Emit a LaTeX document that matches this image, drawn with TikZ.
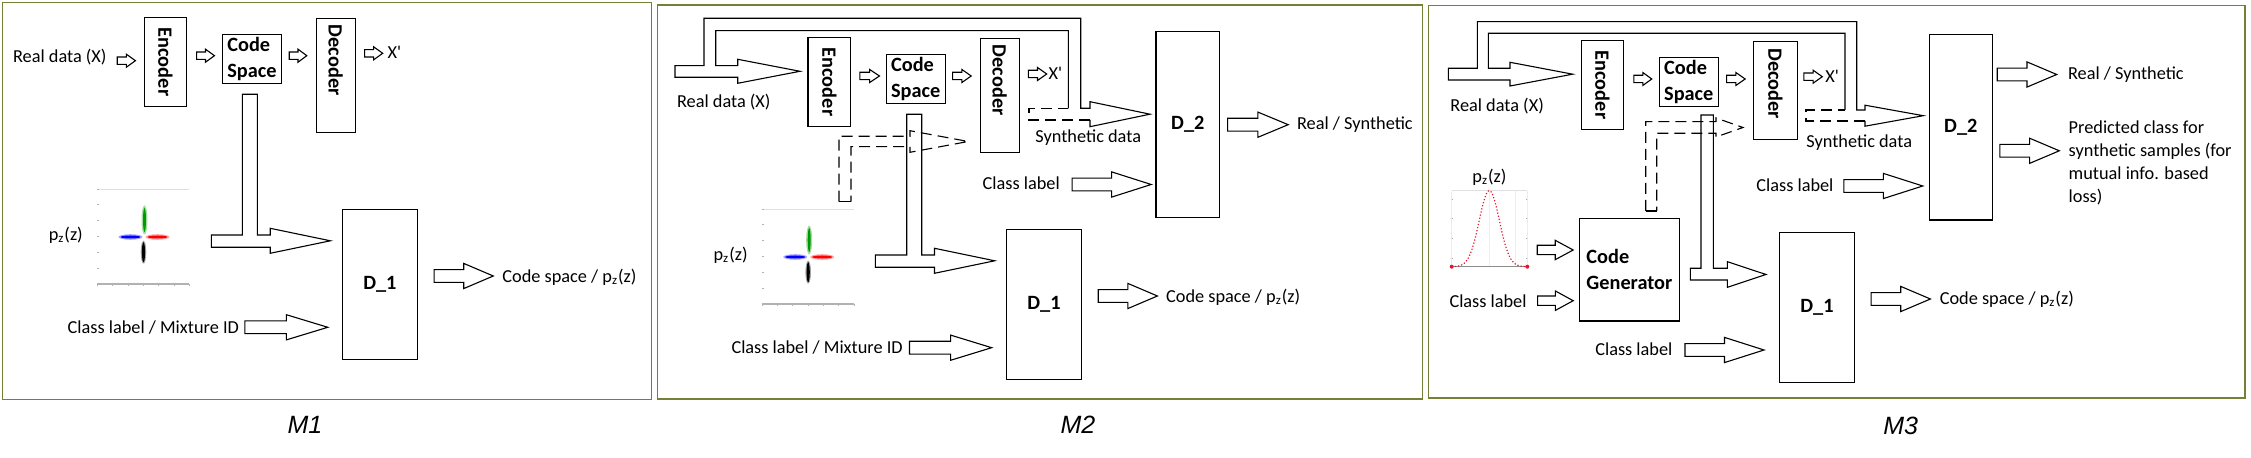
\documentclass[tikz,border=0pt]{standalone}
\usepackage{fontspec}
\setmainfont{Carlito}
\newfontfamily\titlefont{Liberation Sans}
\usepackage{graphicx}
\usepackage{tikz}
\usetikzlibrary{positioning,calc}

\definecolor{framegreen}{RGB}{118,128,52}
\definecolor{dotred}{RGB}{235,20,45}

\begin{document}
\begin{tikzpicture}[
    x=0.5pt, y=-0.5pt,
    lbl/.style={font=\fontsize{9.15}{11}\selectfont, inner sep=0pt, text height=6.6pt, text depth=1.2pt},
    box/.style={draw, line width=0.55pt, inner sep=0pt, font=\fontsize{10.15}{13}\selectfont\bfseries},
    boxtext/.style={font=\fontsize{10.15}{13}\selectfont\bfseries, inner sep=0pt},
    paneltitle/.style={font=\titlefont\itshape\fontsize{12.5}{14}\selectfont, inner sep=0pt},
    panel/.style={draw=framegreen, line width=0.7pt},
    barrow/.style 2 args={draw, line width=0.55pt, to path={
        let \p1=(\tikztostart), \p2=(\tikztotarget),
            \p3=($(\tikztostart)!0.5!(\tikztotarget)$) in
        (\x1,\y1+#1*0.5pt) -- (\x3,\y1+#1*0.5pt) -- (\x3,\y1+#2*0.5pt) -- (\x2,\y1)
        -- (\x3,\y1-#2*0.5pt) -- (\x3,\y1-#1*0.5pt) -- (\x1,\y1-#1*0.5pt) -- cycle}},
    smallarr/.style={barrow={3.7}{6.5}},
    midarr/.style={barrow={4.7}{9.7}},
    bigarr/.style={barrow={6.4}{12.6}},
    pipe/.style={draw, line width=0.55pt},
    dashpipe/.style={draw, line width=0.55pt, dash pattern=on 5.5pt off 3pt},
    pzscatter/.pic={
        \draw[black!12, line width=0.5pt] (-46,-47.4) -- (46,-47.4);
        \draw[black!30, line width=0.6pt] (-46,47.3) -- (46,47.3);
        \foreach \ty in {-47.4,-31.7,-16,0,15.6,31.6}
            \draw[black!30, line width=0.5pt] (-46,\ty) -- (-44,\ty);
        \foreach \tx in {-46,-30.7,-15.3,0,15.3,30.7,46}
            \draw[black!30, line width=0.5pt] (\tx,47.3) -- (\tx,49.5);
        \fill[green!60!black, opacity=0.35] (1.2,-16.7) ellipse [x radius=3, y radius=14.5];
        \fill[green!60!black] (1.2,-16.7) ellipse [x radius=1.5, y radius=12];
        \fill[red, opacity=0.35] (14.2,0.3) ellipse [x radius=12, y radius=2.8];
        \fill[red] (14.2,0.3) ellipse [x radius=10, y radius=1.5];
        \fill[blue, opacity=0.35] (-12.8,0.3) ellipse [x radius=12, y radius=2.8];
        \fill[blue] (-12.8,0.3) ellipse [x radius=10, y radius=1.5];
        \fill[black, opacity=0.35] (0.2,15.5) ellipse [x radius=2.8, y radius=11.5];
        \fill[black] (0.2,15.5) ellipse [x radius=1.6, y radius=10];
    },
    gausscurve/.pic={
        \draw[black!12, line width=0.5pt] (-37.6,-76) -- (38,-76);
        \foreach \tx in {-37.6,0,25.7,38}
            \draw[black!7, line width=0.4pt] (\tx,-76) -- (\tx,0);
        \foreach \ty in {-66.7,-47.7,-28.4,-8.4} {
            \draw[black!35, line width=0.5pt] (-37.6,\ty) -- (-36,\ty);
            \draw[black!35, line width=0.5pt] (38,\ty) -- (36.4,\ty);
        }
        \draw[black!45, line width=0.6pt] (-37.6,0) -- (38,0);
        \draw[dotred, line width=0.6pt, densely dotted, domain=-37.6:38, samples=90, smooth]
            plot (\x, {-76*exp(-(\x*\x)/204)});
        \fill[dotred] (-37.6,0) circle[radius=1pt];
        \fill[dotred] (38,0) circle[radius=1pt];
    }
]
    \fill[white] (0,0) rectangle (2251,458);
    \useasboundingbox (0,0) rectangle (2251,458);

    % --- M1 (left panel) ---
    \node[lbl, anchor=west] (real1) at (12.7,57) {Real data (X)};
    \node[box, minimum width=21.2pt, minimum height=44.7pt] (enc1) at (165.5,62) {\rotatebox{-90}{Encoder}};
    \node[box, align=left, minimum width=29.7pt, minimum height=24.5pt] (cs1) at (252,58.8) {Code\\Space};
    \node[box, minimum width=19.65pt, minimum height=57pt] (dec1) at (335.7,75.3) {};
    \node[boxtext, below=3.35pt of dec1.north] (dectxt1) {\rotatebox{-90}{Decoder}};
    \node[lbl, anchor=west] (xp1) at (387.3,53.3) {X\textquotesingle};
    \node[lbl, anchor=west] (pz1) at (48.4,235) {p\textsubscript{z}(z)};
    \pic at (143.3,236.7) {pzscatter};
    \node[box, minimum width=37.65pt, minimum height=75pt] (dis1) at (379.9,284.3) {D\_1};
    \node[lbl, anchor=west] (cls1) at (67.3,328.3) {Class label / Mixture ID};
    \node[lbl, anchor=west] (out1) at (502,277) {Code space / p\textsubscript{z}(z)};

    \draw[smallarr] ([shift={(10.3,3.7)}]real1.east) to ([shift={(-8.3,0)}]enc1.west);
    \draw[smallarr] ([shift={(9.3,-6.3)}]enc1.east) to ([shift={(-7.3,0)}]cs1.west);
    \draw[smallarr] ([shift={(7,-3.1)}]cs1.east) to ([shift={(-8.7,0)}]dec1.west);
    \draw[smallarr] ([shift={(8.7,-22)}]dec1.east) to ([shift={(-4.6,0)}]xp1.west);
    \draw[bigarr] ([shift={(16,-8.3)}]dis1.east) to ([shift={(-8.7,0)}]out1.west);
    \draw[bigarr] ([shift={(5.5,-1)}]cls1.east) to ([shift={(-13.9,0)}]dis1.west);

    % code space down into D_1
    \draw[pipe] (242.3,94.3) -- (257.3,94.3) -- (257.3,235) -- (270.2,235) -- (270.2,228.3)
        -- (330.4,240.8) -- (270.2,253.3) -- (270.2,247.3) -- (211.3,247.3) -- (211.3,235)
        -- (242.3,235) -- cycle;

    % --- M2 (middle panel) ---
    \node[lbl, anchor=west] (real2) at (676.7,102.3) {Real data (X)};
    \node[box, minimum width=21.35pt, minimum height=44.7pt] (enc2) at (829.3,82) {\rotatebox{-90}{Encoder}};
    \node[box, align=left, minimum width=29.65pt, minimum height=24.5pt] (cs2) at (915.7,78.8) {Code\\Space};
    \node[box, minimum width=19.65pt, minimum height=57pt] (dec2) at (999.7,95.3) {};
    \node[boxtext, below=3.35pt of dec2.north] (dectxt2) {\rotatebox{-90}{Decoder}};
    \node[lbl, anchor=west] (xp2) at (1048.3,74) {X\textquotesingle};
    \node[lbl, anchor=west] (syn2) at (1035,137) {Synthetic data};
    \node[box, minimum width=31.85pt, minimum height=92.8pt] (dis2b) at (1187.8,124.5) {D\_2};
    \node[lbl, anchor=west] (rs2) at (1296.7,124.3) {Real / Synthetic};
    \node[lbl, anchor=west] (cls2b) at (982.3,184) {Class label};
    \node[lbl, anchor=west] (pz2) at (713.2,255) {p\textsubscript{z}(z)};
    \pic at (808,256.7) {pzscatter};
    \node[box, minimum width=37.3pt, minimum height=75pt] (dis2a) at (1044,304.3) {D\_1};
    \node[lbl, anchor=west] (out2) at (1165.8,296.7) {Code space / p\textsubscript{z}(z)};
    \node[lbl, anchor=west] (cls2a) at (731.1,347.7) {Class label / Mixture ID};

    \draw[smallarr] ([shift={(8.6,-6)}]enc2.east) to ([shift={(-6,0)}]cs2.west);
    \draw[smallarr] ([shift={(6.7,-2.8)}]cs2.east) to ([shift={(-8.3,0)}]dec2.west);
    \draw[smallarr] ([shift={(8.4,-21.3)}]dec2.east) to ([shift={(-1.6,0)}]xp2.west);
    \draw[bigarr] ([shift={(7.4,0.2)}]dis2b.east) to ([shift={(-8.5,0)}]rs2.west);
    \draw[bigarr] ([shift={(12,0.5)}]cls2b.east) to ([shift={(-4.2,0)}]dis2b.west);
    \draw[bigarr] ([shift={(16.4,-8.3)}]dis2a.east) to ([shift={(-8.4,0)}]out2.west);
    \draw[bigarr] ([shift={(6.4,0)}]cls2a.east) to ([shift={(-14.5,0)}]dis2a.west);

    % real data into encoder, branch over the top into D_2
    \draw[pipe] (1068.3,108.3) -- (1068.3,30.7) -- (715.7,30.7) -- (715.7,65.7) -- (737.7,65.7)
        -- (737.7,59.3) -- (800,71.3) -- (737.7,83.3) -- (737.7,77.3) -- (675,77.3) -- (675,65.7)
        -- (704,65.7) -- (704,18.3) -- (1080.7,18.3) -- (1080.7,108.3) -- (1090,108.3)
        -- (1090,101.7) -- (1150,114.2) -- (1090,126.7) -- (1090,120);
    \draw[dashpipe] (1090,120) -- (1029,120) -- (1029,108.3) -- (1068.3,108.3);

    % code space down into D_1
    \draw[pipe] (906.7,114.3) -- (921.7,114.3) -- (921.7,255) -- (934.5,255) -- (934.5,248.3)
        -- (994.7,260.8) -- (934.5,273.3) -- (934.5,267.3) -- (875.3,267.3) -- (875.3,255)
        -- (906.7,255) -- cycle;

    % prior sample into the decoder
    \draw[dashpipe] (839,201.7) -- (839,136.3) -- (910,136.3) -- (910,130.7) -- (968.3,141.5)
        -- (910,152.3) -- (910,146.7) -- (851,146.7) -- (851,201.7);
    \draw[pipe] (839,201.7) -- (851,201.7);

    % --- M3 (right panel) ---
    \node[lbl, anchor=west] (real3) at (1450,105.7) {Real data (X)};
    \node[box, minimum width=21pt, minimum height=44.3pt] (enc3) at (1602.3,85) {\rotatebox{-90}{Encoder}};
    \node[box, align=left, minimum width=29.5pt, minimum height=24.7pt] (cs3) at (1688.8,82) {Code\\Space};
    \node[box, minimum width=22.2pt, minimum height=48.8pt] (dec3) at (1775.5,90.5) {};
    \node[boxtext, below=3.35pt of dec3.north] (dectxt3) {\rotatebox{-90}{Decoder}};
    \node[lbl, anchor=west] (xp3) at (1825,76.7) {X\textquotesingle};
    \node[lbl, anchor=west] (syn3) at (1806,141.7) {Synthetic data};
    \node[box, minimum width=31.5pt, minimum height=92.85pt] (dis3b) at (1960.8,127.2) {D\_2};
    \node[lbl, anchor=west] (rs3) at (2067.7,74) {Real / Synthetic};
    \node[font=\fontsize{9.15}{11.45}\selectfont, inner sep=0pt, align=left, anchor=west] (pc3)
        at (2068.3,163.1) {Predicted class for\\synthetic samples (for\\mutual info. based\\loss)};
    \node[lbl, anchor=west] (cls3b) at (1756,185.7) {Class label};
    \node[lbl] (pz3) at (1489.4,176.7) {p\textsubscript{z}(z)};
    \pic at (1489.3,266.7) {gausscurve};
    \node[box, align=left, minimum width=50.35pt, minimum height=51.35pt] (gen3) at (1629.4,269.7) {Code\\Generator};
    \node[lbl, anchor=west] (cls3g) at (1449.1,301.7) {Class label};
    \node[box, minimum width=37.65pt, minimum height=75pt] (dis3a) at (1817,307.3) {D\_1};
    \node[lbl, anchor=west] (out3) at (1939.4,299.3) {Code space / p\textsubscript{z}(z)};
    \node[lbl, anchor=west] (cls3a) at (1594.9,350) {Class label};

    \draw[smallarr] ([shift={(10,-6)}]enc3.east) to ([shift={(-7,0)}]cs3.west);
    \draw[smallarr] ([shift={(7.7,-3)}]cs3.east) to ([shift={(-7.6,0)}]dec3.west);
    \draw[smallarr] ([shift={(5.6,-13.8)}]dec3.east) to ([shift={(-2.7,0)}]xp3.west);
    \draw[bigarr] ([shift={(4.4,-52.7)}]dis3b.east) to ([shift={(-11,0)}]rs3.west);
    \draw[bigarr] ([shift={(7,23.6)}]dis3b.east) to ([shift={(-9,0)}]pc3.west);
    \draw[bigarr] ([shift={(10,0.3)}]cls3b.east) to ([shift={(-6,0)}]dis3b.west);
    \draw[midarr] ([shift={(-41.3,-19.7)}]gen3.west) to ([shift={(-5.3,0)}]gen3.west);
    \draw[midarr] ([shift={(10.6,-1)}]cls3g.east) to ([shift={(-5.3,0)}]gen3.west);
    \draw[bigarr] ([shift={(15.9,-8.3)}]dis3a.east) to ([shift={(-9,0)}]out3.west);
    \draw[bigarr] ([shift={(12.2,0)}]cls3a.east) to ([shift={(-14.8,0)}]dis3a.west);

    % real data into encoder, branch over the top into D_2
    \draw[pipe] (1845,110) -- (1845,33.3) -- (1488.3,33.3) -- (1488.3,68.3) -- (1510,68.3)
        -- (1510,62.3) -- (1572.7,74.2) -- (1510,86) -- (1510,80) -- (1448.3,80) -- (1448.3,68.3)
        -- (1477.3,68.3) -- (1477.3,21.7) -- (1856.7,21.7) -- (1856.7,110) -- (1865,110)
        -- (1865,105.2) -- (1923.3,115.7) -- (1865,126.2) -- (1865,121);
    \draw[dashpipe] (1865,121) -- (1806,121) -- (1806,110) -- (1845,110);

    % code space down into D_1
    \draw[pipe] (1701,115) -- (1713.3,115) -- (1713.3,268.3) -- (1727.4,268.3) -- (1727.4,261.7)
        -- (1766,274.5) -- (1727.4,287.3) -- (1727.4,280) -- (1690.3,280) -- (1690.3,268.3)
        -- (1701,268.3) -- cycle;

    % generated code into the decoder
    \draw[dashpipe] (1645.7,211) -- (1645.7,121.7) -- (1716,121.7) -- (1716,118) -- (1743,127.5)
        -- (1716,137) -- (1716,133.3) -- (1656.7,133.3) -- (1656.7,211);
    \draw[pipe] (1645.7,211) -- (1656.7,211);

    % --- PANEL FRAMES AND TITLES ---
    \draw[panel] (2.7,2.7) rectangle (651.7,399.3);
    \draw[panel] (657.5,5) rectangle (1422.7,399);
    \draw[panel] (1428.3,5.5) rectangle (2245,398);

    \node[paneltitle] (t1) at (305,425) {M1};
    \node[paneltitle] (t2) at (1078,425) {M2};
    \node[paneltitle] (t3) at (1900.6,426) {M3};

\end{tikzpicture}
\end{document}
